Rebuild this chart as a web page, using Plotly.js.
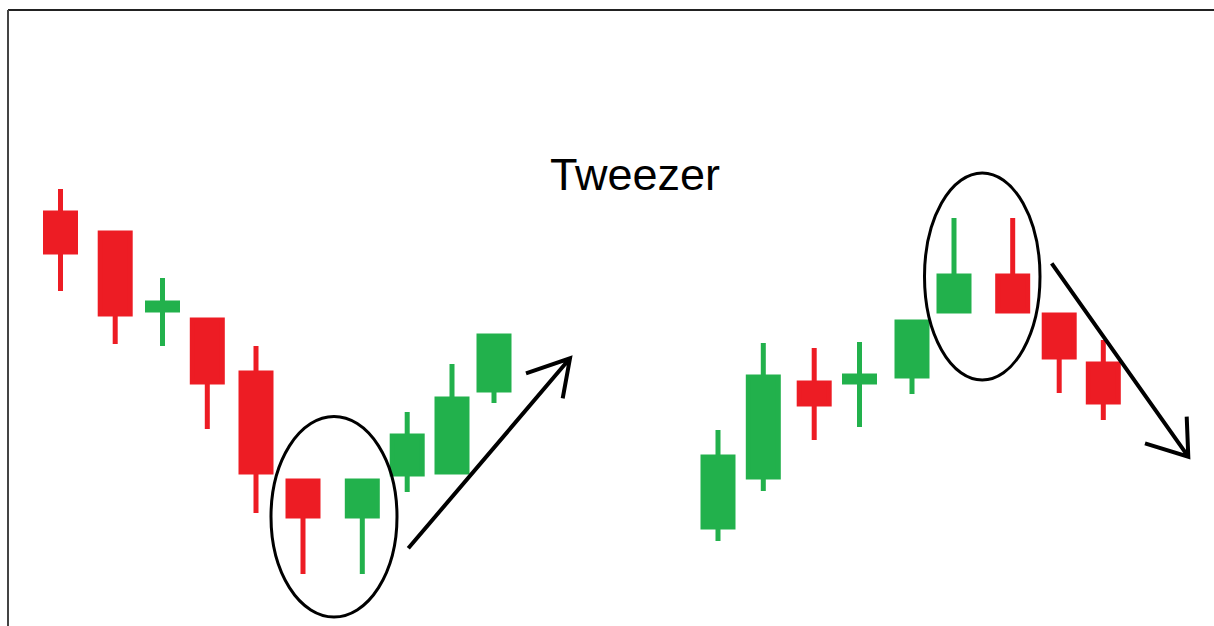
<!DOCTYPE html>
<html>
<head>
<meta charset="utf-8">
<script src="https://cdn.plot.ly/plotly-3.0.1.min.js"></script>
<style>
html,body{margin:0;padding:0;background:#fff;}
#chart{width:1214px;height:626px;}
</style>
</head>
<body>
<div id="chart"></div>
<script>
// Session positions (time units) and OHLC values for the two tweezer examples
var sessions = [6.05, 11.52, 16.25, 20.73, 25.6, 30.3, 36.23, 40.72, 45.2, 49.4,
                71.8, 76.33, 81.42, 85.95, 91.2, 95.4, 101.27, 105.92, 110.33];
var openVals  = [41.3, 39.3, 31.6, 30.6, 25.3, 14.5, 11.0, 15.2, 15.4, 23.6,
                 9.9, 14.9, 24.3, 24.4, 25.0, 31.5, 35.0, 31.1, 26.2];
var highVals  = [43.7, 39.3, 34.8, 30.6, 28.0, 14.5, 14.5, 21.4, 26.2, 29.0,
                 19.6, 28.3, 27.8, 28.4, 30.4, 40.8, 40.8, 31.1, 28.6];
var lowVals   = [33.5, 28.2, 28.0, 19.7, 11.3, 5.2, 5.2, 13.4, 15.4, 22.3,
                 8.5, 13.5, 18.6, 19.9, 23.2, 31.5, 31.5, 23.3, 20.6];
var closeVals = [37.4, 31.2, 32.3, 24.4, 15.4, 11.0, 14.5, 19.0, 22.7, 29.0,
                 16.9, 24.9, 22.2, 25.0, 30.4, 35.0, 31.5, 26.9, 22.4];
var titleText = 'Tweezer';

var RED = '#ED1C24', GREEN = '#22B14C';

var trace = {
  type: 'candlestick',
  x: sessions,
  open: openVals, high: highVals, low: lowVals, close: closeVals,
  increasing: {line: {color: GREEN, width: 5}, fillcolor: GREEN},
  decreasing: {line: {color: RED, width: 5}, fillcolor: RED},
  whiskerwidth: 0,
  hoverinfo: 'skip',
  showlegend: false
};

var layout = {
  width: 1214, height: 626,
  margin: {l: 0, r: 0, t: 0, b: 0},
  paper_bgcolor: '#ffffff', plot_bgcolor: '#ffffff',
  boxgap: 0.2857, boxgroupgap: 0,
  showlegend: false,
  xaxis: {range: [0, 121.4], visible: false, fixedrange: true, rangeslider: {visible: false}},
  yaxis: {range: [0, 62.6], visible: false, fixedrange: true},
  annotations: [{
    text: titleText, x: 63.5, y: 45.2, xref: 'x', yref: 'y',
    xanchor: 'center', yanchor: 'middle', showarrow: false,
    font: {family: 'Liberation Sans, Arial, sans-serif', size: 45, color: '#000'}
  }],
  shapes: [
    // frame
    {type: 'line', xref: 'x', yref: 'y', x0: 0.8, y0: 61.6, x1: 121.4, y1: 61.6, line: {color: '#222', width: 2}},
    {type: 'line', xref: 'x', yref: 'y', x0: 0.8, y0: 61.6, x1: 0.8, y1: 0, line: {color: '#444', width: 2}},
    // ellipses around tweezer pairs
    {type: 'circle', xref: 'x', yref: 'y', x0: 27.1, x1: 39.7, y0: 0.9, y1: 20.95, line: {color: '#000', width: 3}},
    {type: 'circle', xref: 'x', yref: 'y', x0: 92.45, x1: 104.0, y0: 24.6, y1: 45.3, line: {color: '#000', width: 3}},
    // arrows
    {type: 'path', xref: 'x', yref: 'y', path: 'M 40.83 7.77 L 57.0 26.77 M 52.6 25.27 L 57.0 26.77 L 56.27 22.77', line: {color: '#000', width: 4}},
    {type: 'path', xref: 'x', yref: 'y', path: 'M 105.17 36.27 L 118.83 16.93 M 118.67 20.93 L 118.83 16.93 L 114.5 18.27', line: {color: '#000', width: 4}}
  ]
};

Plotly.newPlot('chart', [trace], layout, {staticPlot: true, displayModeBar: false});
</script>
</body>
</html>
